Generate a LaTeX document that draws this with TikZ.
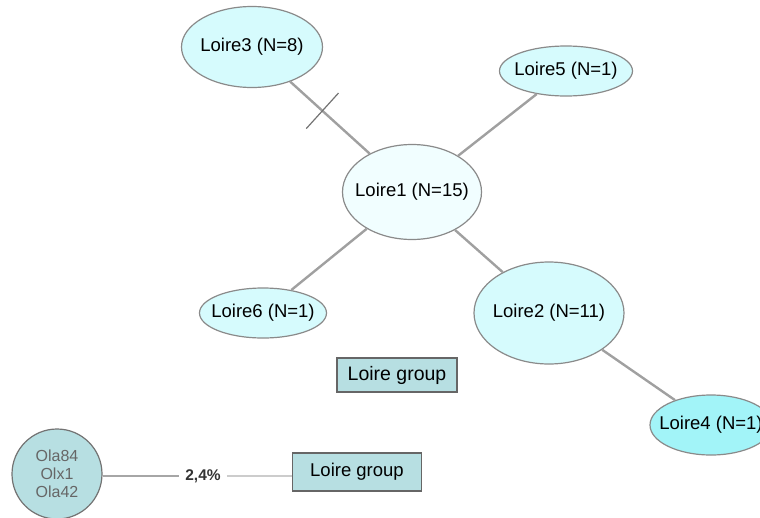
\documentclass[tikz,border=0pt]{standalone}
\usepackage{fontspec}
\setmainfont{Liberation Sans}
\usetikzlibrary{shapes.geometric, calc}

\definecolor{hapfill}{HTML}{D6FBFD}
\definecolor{hapmain}{HTML}{F1FEFF}
\definecolor{hapdeep}{HTML}{A2F4F8}
\definecolor{grpfill}{HTML}{B7DFE2}
\definecolor{hapline}{HTML}{8A8A8A}
\definecolor{edgegray}{HTML}{A0A0A0}

\begin{document}
\begin{tikzpicture}[x=1pt, y=-1pt,
	hap/.style={ellipse, draw=hapline, line width=1.2pt, fill=hapfill, inner xsep=-22pt, inner ysep=0pt,
		font=\fontsize{18.5}{21}\selectfont},
	grp/.style={rectangle, draw=black!60, line width=1.2pt, fill=grpfill, inner sep=0pt,
		font=\fontsize{19.5}{22}\selectfont},
	link/.style={edgegray, line width=2.4pt},
	]
	\clip (0,0) rectangle (760,517);

	\node [hap, minimum width=141, minimum height=81] (l3) at (252,47) {Loire3 (N=8)};
	\node [hap, minimum width=133, minimum height=50] (l5) at (566,71) {Loire5 (N=1)};
	\node [hap, fill=hapmain, minimum width=139, minimum height=95] (l1) at (412,192) {Loire1 (N=15)};
	\node [hap, minimum width=127, minimum height=50] (l6) at (263,313) {Loire6 (N=1)};
	\node [hap, minimum width=150, minimum height=102] (l2) at (549,313) {Loire2 (N=11)};
	\node [hap, fill=hapdeep, minimum width=122, minimum height=60] (l4) at (711,425) {Loire4 (N=1)};

	\node [grp, minimum width=120, minimum height=34] (g1) at (397,375) {Loire group};

	\begin{scope}[link]
		\draw (l3) -- (l1);
		\draw (l5) -- (l1);
		\draw (l1) -- (l6);
		\draw (l1) -- (l2);
		\draw (l2) -- (l4);
	\end{scope}
	\coordinate (mut) at ($(l3)!0.44!(l1)$);
	\draw [black!55, line width=1.2pt] ($(mut)!24pt!90:(l1)$) -- ($(mut)!24pt!-90:(l1)$);

	\node [circle, draw=black!55, line width=1.2pt, fill=grpfill, minimum size=90, inner sep=0pt,
		align=center, text=black!60, font=\fontsize{16}{18}\selectfont] (ola) at (57,474) {Ola84\\Olx1\\Ola42};
	\node [grp, minimum width=129, minimum height=38, font=\fontsize{18.5}{21}\selectfont] (g2) at (357,472) {Loire group};
	\node [font=\fontsize{15.5}{18}\selectfont\bfseries, text=black!80, inner sep=6pt] (pct) at (203,476) {2,4\%};

	\draw [black!35, line width=2pt] (ola.east |- pct) -- (pct);
	\draw [black!20, line width=2.2pt] (pct) -- (pct -| g2.west);
\end{tikzpicture}
\end{document}
